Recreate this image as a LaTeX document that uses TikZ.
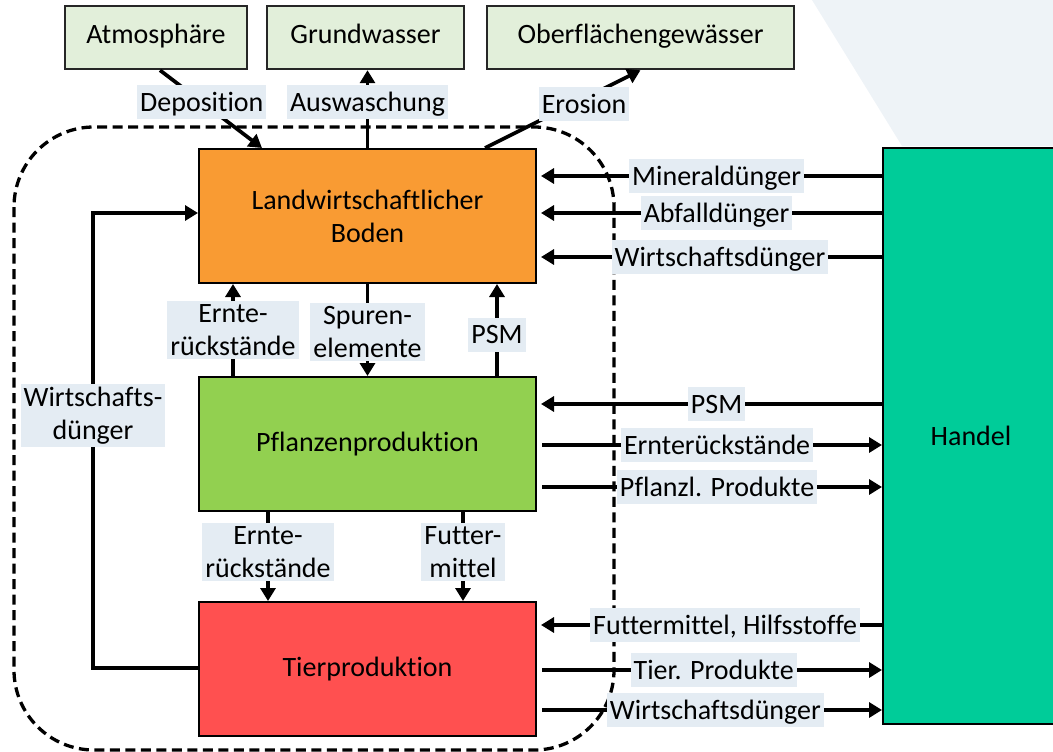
\documentclass[tikz,border=0pt]{standalone}
\usepackage{fontspec}
\setmainfont{Carlito}[Ligatures={NoCommon}]
\usetikzlibrary{arrows.meta,calc}
\definecolor{envgreen}{HTML}{E2EFDA}
\definecolor{lblbg}{HTML}{E4ECF3}
\definecolor{bodenc}{HTML}{F99B33}
\definecolor{pflc}{HTML}{92D050}
\definecolor{tierc}{HTML}{FF5050}
\definecolor{handelc}{HTML}{00CC99}
\definecolor{bgpoly}{HTML}{EEF3F7}
\newcommand\fsz{\fontsize{28}{33}\selectfont}
\begin{document}
\begin{tikzpicture}[x=1pt,y=-1pt,
  box/.style={draw=black, line width=2pt, minimum width=337pt, minimum height=134pt, font=\fsz, align=center, inner sep=0pt},
  envbox/.style={draw=black!85, line width=2.5pt, fill=envgreen, minimum height=63pt, font=\fsz, inner sep=0pt, text height=19pt, text depth=6pt},
  arr/.style={line width=3.7pt, -{Triangle[length=13pt,width=15pt]}},
  lbl/.style={fill=lblbg, inner sep=3pt, font=\fsz, text height=23pt, text depth=5pt},
  lbltwo/.style={fill=lblbg, inner sep=3pt, font=\fsz, align=center},
  boundary/.style={line width=3.3pt, dash pattern=on 10pt off 5.5pt, rounded corners=80pt}
]
\useasboundingbox (0,0) rectangle (1053,752);
% background shape
\fill[bgpoly] (812,0) -- (1053,0) -- (1053,146) -- (902,146) -- cycle;
% system boundary
\draw[boundary] (14,127) rectangle (614,750);

% environment boxes
\node[envbox, minimum width=182pt] (atm) at (156,37.5) {Atmosphäre};
\node[envbox, minimum width=197pt] (grund) at (365.5,37.5) {Grundwasser};
\node[envbox, minimum width=307pt] (ober) at (640.5,37.5) {Oberflächengewässer};

% main boxes
\node[box, fill=bodenc] (boden) at (367.5,216) {Landwirtschaftlicher\\Boden};
\node[box, fill=pflc] (pflanzen) at (367.5,444) {Pflanzenproduktion};
\node[box, fill=tierc] (tier) at (367.5,669) {Tierproduktion};
\node[draw=black, line width=2pt, fill=handelc, minimum width=176pt, minimum height=576pt, font=\fsz, inner sep=0pt] (handel) at (971,436) {Handel};

% environment flows
\draw[arr] ([xshift=4pt]atm.south) -- node[lbl, pos=0.41]{Deposition} ([xshift=-105.5pt]boden.north);
\draw[arr] (boden.north) -- node[lbl, pos=0.59]{Auswaschung} (boden.north |- grund.south);
\draw[arr] ([xshift=117.5pt]boden.north) -- node[lbl, pos=0.56, xshift=12pt]{Erosion} (ober.south);

% flows from/to Handel
\coordinate (b1) at ($(boden.east)+(4,-40)$);
\coordinate (b2) at ($(boden.east)+(4,-3)$);
\coordinate (b3) at ($(boden.east)+(4,41)$);
\coordinate (p1) at ($(pflanzen.east)+(4,-40)$);
\coordinate (p2) at ($(pflanzen.east)+(5,1)$);
\coordinate (p3) at ($(pflanzen.east)+(5,43)$);
\coordinate (t1) at ($(tier.east)+(4,-44)$);
\coordinate (t2) at ($(tier.east)+(5,1)$);
\coordinate (t3) at ($(tier.east)+(5,41)$);

\draw[arr] (handel.west |- b1) -- node[lbl, pos=0.485]{Mineraldünger} (b1);
\draw[arr] (handel.west |- b2) -- node[lbl, pos=0.485]{Abfalldünger} (b2);
\draw[arr] (handel.west |- b3) -- node[lbl, pos=0.475]{Wirtschaftsdünger} (b3);
\draw[arr] (handel.west |- p1) -- node[lbl, pos=0.485]{PSM} (p1);
\draw[arr] (p2) -- node[lbl, pos=0.515]{Ernterückstände} (handel.west |- p2);
\draw[arr] (p3) -- node[lbl, pos=0.515]{Pflanzl. Produkte} (handel.west |- p3);
\draw[arr] (handel.west |- t1) -- node[lbl, pos=0.46]{Futtermittel, Hilfsstoffe} (t1);
\draw[arr] (t2) -- node[lbl, pos=0.505]{Tier. Produkte} (handel.west |- t2);
\draw[arr] (t3) -- node[lbl, pos=0.51]{Wirtschaftsdünger} (handel.west |- t3);

% internal flows Boden <-> Pflanzen
\draw[arr] ([xshift=-134.5pt]pflanzen.north) -- node[lbltwo]{Ernte-\\rückstände} ([xshift=-134.5pt]boden.south);
\draw[arr] (boden.south) -- node[lbltwo, pos=0.52]{Spuren-\\elemente} (pflanzen.north);
\draw[arr] ([xshift=129.5pt]pflanzen.north) -- node[lbl, pos=0.45]{PSM} ([xshift=129.5pt]boden.south);

% internal flows Pflanzen -> Tier
\draw[arr] ([xshift=-99.5pt]pflanzen.south) -- node[lbltwo, pos=0.45]{Ernte-\\rückstände} ([xshift=-99.5pt]tier.north);
\draw[arr] ([xshift=95.5pt]pflanzen.south) -- node[lbltwo, pos=0.45]{Futter-\\mittel} ([xshift=95.5pt]tier.north);

% Wirtschaftsdünger loop
\coordinate (w1) at ($(tier.west)+(-105,-1)$);
\coordinate (w2) at ($(boden.west)+(0,-3)$);
\draw[arr] ([yshift=1pt]tier.west) -- (w1) -- node[lbltwo, pos=0.555]{Wirtschafts-\\dünger} (w1 |- w2) -- (w2);
\end{tikzpicture}
\end{document}
